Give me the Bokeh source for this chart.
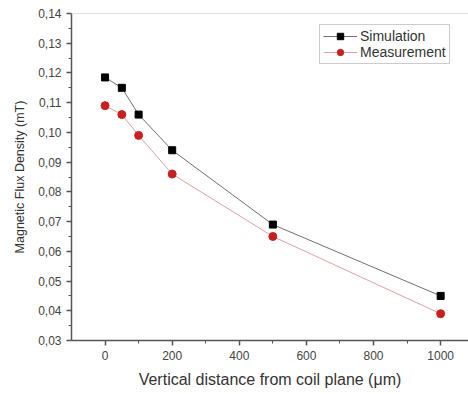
from bokeh.plotting import figure
from bokeh.models import FixedTicker, CustomJSTickFormatter, Span, Range1d
from bokeh.embed import file_html
from bokeh.resources import INLINE

distance = [0, 50, 100, 200, 500, 1000]
simulation = [0.1185, 0.115, 0.106, 0.094, 0.069, 0.045]
measurement = [0.109, 0.106, 0.099, 0.086, 0.065, 0.039]

x_ticks = [0, 200, 400, 600, 800, 1000]
x_minor = [100, 300, 500, 700, 900]
y_ticks = [0.03, 0.04, 0.05, 0.06, 0.07, 0.08, 0.09, 0.10, 0.11, 0.12, 0.13, 0.14]
y_minor = [0.035, 0.045, 0.055, 0.065, 0.075, 0.085, 0.095, 0.105, 0.115, 0.125, 0.135]

FONT = "Liberation Sans"

p = figure(width=468, height=394, output_backend="svg", toolbar_location=None,
           x_range=Range1d(-100, 1083), y_range=Range1d(0.03, 0.14),
           min_border_left=71, min_border_right=0, min_border_top=13, min_border_bottom=54)
p.outline_line_color = None
p.grid.visible = False
p.background_fill_color = "white"

top = Span(location=0.14, dimension="width", line_color="#c4c4c4", line_width=1.2)
p.add_layout(top)

p.line(distance, simulation, line_color="#707070", line_width=1, legend_label="Simulation")
p.scatter(distance, simulation, marker="square", size=7, fill_color="black",
          line_color="black", legend_label="Simulation")
p.line(distance, measurement, line_color="#e4a0a0", line_width=1, legend_label="Measurement")
p.scatter(distance, measurement, marker="circle", size=8, fill_color="#c82020",
          line_color="#c82020", legend_label="Measurement")

p.xaxis.ticker = FixedTicker(ticks=x_ticks, minor_ticks=x_minor)
p.yaxis.ticker = FixedTicker(ticks=y_ticks, minor_ticks=y_minor)
p.yaxis.formatter = CustomJSTickFormatter(code="return tick.toFixed(2).replace('.', ',');")

for ax in (p.xaxis[0], p.yaxis[0]):
    ax.axis_line_color = "#555555"
    ax.axis_line_width = 1.5
    ax.major_tick_line_color = "#555555"
    ax.minor_tick_line_color = "#555555"
    ax.major_tick_line_width = 1.5
    ax.major_tick_in = 0
    ax.major_tick_out = 5
    ax.minor_tick_in = 0
    ax.minor_tick_out = 3
    ax.major_label_text_font = FONT
    ax.major_label_text_font_size = "12px"
    ax.major_label_text_color = "#444444"
    ax.axis_label_text_font = FONT
    ax.axis_label_text_font_style = "normal"
    ax.axis_label_text_color = "#333333"

p.xaxis.axis_label = "Vertical distance from coil plane (μm)"
p.yaxis.axis_label = "Magnetic Flux Density (mT)"
p.xaxis.axis_label_text_font_size = "16px"
p.yaxis.axis_label_text_font_size = "12.5px"
p.xaxis.major_label_standoff = 5
p.xaxis.axis_label_standoff = 8
p.yaxis.major_label_standoff = 5
p.yaxis.axis_label_standoff = 8

lg = p.legend[0]
lg.location = (248, 276)
lg.border_line_color = "#999999"
lg.border_line_width = 1
lg.background_fill_alpha = 1
lg.padding = 3
lg.spacing = 0
lg.margin = 0
lg.glyph_width = 34
lg.glyph_height = 16
lg.label_height = 16
lg.label_standoff = 3
lg.label_text_font = FONT
lg.label_text_font_size = "14px"
lg.label_text_color = "#333333"

open("out.html", "w").write(file_html(p, INLINE))
